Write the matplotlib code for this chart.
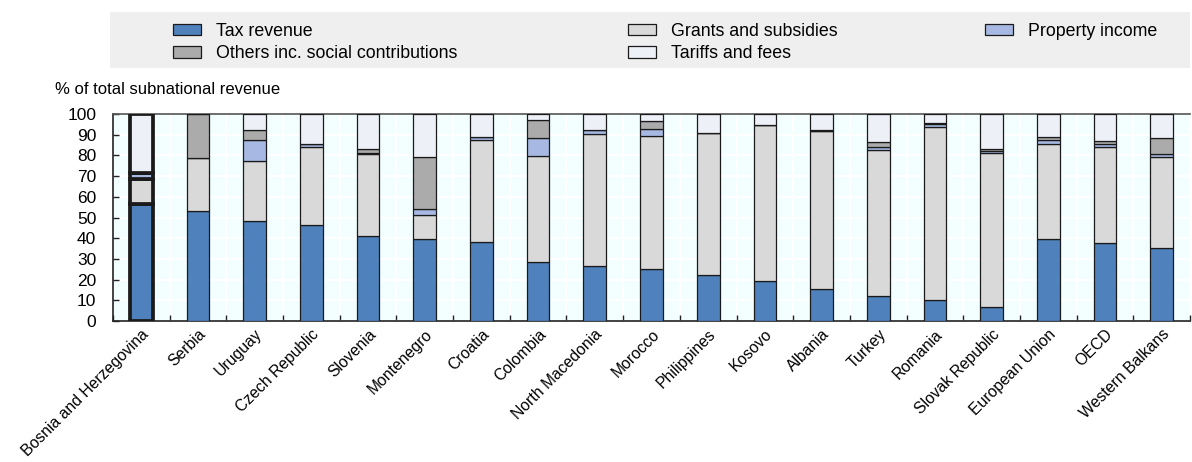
import matplotlib
matplotlib.use("Agg")
import matplotlib.pyplot as plt
import numpy as np
from matplotlib.patches import Rectangle

plt.rcParams['font.family'] = ['Liberation Sans', 'DejaVu Sans']

countries = ["Bosnia and Herzegovina", "Serbia", "Uruguay", "Czech Republic", "Slovenia",
             "Montenegro", "Croatia", "Colombia", "North Macedonia", "Morocco", "Philippines",
             "Kosovo", "Albania", "Turkey", "Romania", "Slovak Republic", "European Union",
             "OECD", "Western Balkans"]
tax_revenue = [56.5, 53.1, 48.3, 46.4, 41.1, 39.5, 38.2, 28.5, 26.7, 25.3, 22.2, 19.5, 15.6, 12.1, 10.0, 6.9, 39.6, 37.8, 35.3]
grants_subsidies = [12.0, 25.8, 29.0, 37.8, 39.7, 11.7, 49.1, 51.2, 63.5, 64.2, 68.5, 75.2, 76.3, 70.3, 83.7, 74.4, 46.1, 46.3, 43.9]
property_income = [3.2, 0.0, 10.3, 1.1, 0.6, 2.9, 1.4, 8.5, 2.0, 3.3, 0.0, 0.0, 0.0, 1.8, 1.7, 0.8, 1.8, 1.6, 1.6]
others_social = [0.0, 21.1, 4.7, 0.4, 1.5, 24.9, 0.4, 8.9, 0.3, 3.8, 0.0, 0.0, 0.5, 2.1, 0.3, 1.0, 1.4, 1.4, 7.7]
tariffs_fees = [28.3, 0.0, 7.7, 14.3, 17.1, 21.0, 10.9, 2.9, 7.5, 3.4, 9.3, 5.3, 7.6, 13.7, 4.3, 16.9, 11.1, 12.9, 11.5]

series = [
    ("Tax revenue", tax_revenue, "#4F81BD"),
    ("Grants and subsidies", grants_subsidies, "#D9D9D9"),
    ("Property income", property_income, "#A7B9E3"),
    ("Others inc. social contributions", others_social, "#ABABAB"),
    ("Tariffs and fees", tariffs_fees, "#EDF0F7"),
]

fig = plt.figure(figsize=(11.92, 4.62), dpi=100)
ax = fig.add_axes([113/1192, 1-321/462, (1190-113)/1192, (321-114)/462])
ax.set_facecolor("#F2FEFF")

x = np.arange(len(countries))
lws = [2.7] + [0.9] * (len(countries) - 1)
bottom = np.zeros(len(countries))
handles = {}
for name, vals, col in series:
    vals = np.array(vals)
    bars = ax.bar(x, vals, width=0.4, bottom=bottom, color=col, edgecolor="#1a1a1a",
                  linewidth=lws, label=name, zorder=3)
    handles[name] = bars
    bottom += vals

ax.set_xlim(-0.5, len(countries) - 0.5)
ax.set_ylim(0, 100)
ax.set_yticks(np.arange(0, 101, 10))
ax.set_xticks(x)
ax.set_xticklabels(countries, rotation=45, ha="right", rotation_mode="anchor", fontsize=11.3)
ax.set_xticks(np.arange(-0.5, len(countries), 1), minor=True)
ax.tick_params(axis="x", which="major", length=0, pad=4)
ax.tick_params(axis="x", which="minor", direction="in", length=4, width=1, color="#222222")
ax.tick_params(axis="y", direction="in", length=4, width=1, labelsize=12.5, pad=12, color="#222222")

ax.grid(True, axis="y", color="white", linewidth=1.5, zorder=0)
ax.grid(True, axis="x", which="minor", color="white", linewidth=1.5, zorder=0)
ax.set_axisbelow(True)

for s in ["left", "bottom"]:
    ax.spines[s].set_color("#222222")
    ax.spines[s].set_linewidth(1.2)
ax.spines["top"].set_color("#555555")
ax.spines["top"].set_linewidth(1.2)
ax.spines["right"].set_visible(False)

fig.text(55/1192, 1-90/462, "% of total subnational revenue", fontsize=12, ha="left", va="center")

# legend background
fig.patches.append(Rectangle((110/1192, 1-68/462), (1190-110)/1192, 56/462,
                             transform=fig.transFigure, facecolor="#EFEFEF", edgecolor="none", zorder=0))

cols = [
    (["Tax revenue", "Others inc. social contributions"], 173),
    (["Grants and subsidies", "Tariffs and fees"], 628),
    (["Property income"], 985),
]
for names, xp in cols:
    leg = fig.legend([handles[n] for n in names], names, loc="upper left",
                     bbox_to_anchor=(xp/1192, 1-23/462), frameon=False, fontsize=12.8,
                     borderpad=0, borderaxespad=0, handlelength=1.6, handleheight=0.6,
                     handletextpad=0.8, labelspacing=0.3)
    for p in leg.get_patches():
        p.set_linewidth(0.9)

fig.savefig("out.png", dpi=100)
